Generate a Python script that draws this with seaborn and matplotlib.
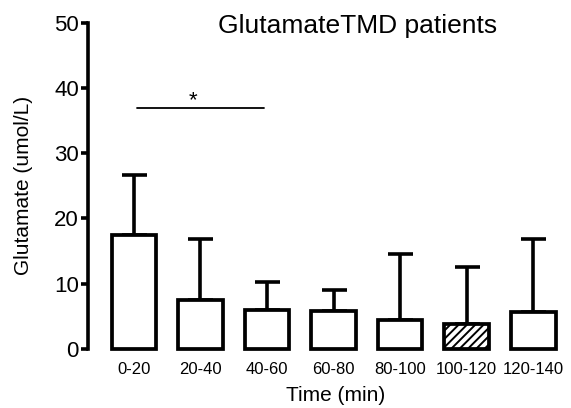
import matplotlib
matplotlib.use("Agg")
import matplotlib.pyplot as plt
import seaborn as sns
import pandas as pd
import numpy as np

# ---- data ----
categories = ["0-20", "20-40", "40-60", "60-80", "80-100", "100-120", "120-140"]
means = [17.5, 7.5, 5.9, 5.8, 4.5, 3.8, 5.6]
upper = [26.6, 16.8, 10.2, 9.1, 14.6, 12.5, 16.8]
yticks = [0, 10, 20, 30, 40, 50]
sig_x = [0.04, 1.95]
sig_y = 37.0
star_x = 0.89
star_y = 38.1

sns.set_theme(style="white")
plt.rcParams["font.family"] = ["Liberation Sans", "DejaVu Sans"]
plt.rcParams["hatch.linewidth"] = 1.4
plt.rcParams["text.color"] = "black"
plt.rcParams["axes.labelcolor"] = "black"
plt.rcParams["xtick.color"] = "black"
plt.rcParams["ytick.color"] = "black"

W, H = 571, 408
fig = plt.figure(figsize=(W / 100, H / 100), dpi=100)
ax_left, ax_right, ax_bottom, ax_top = 88, 568, 59, 385.3
ax = fig.add_axes([ax_left / W, ax_bottom / H, (ax_right - ax_left) / W, (ax_top - ax_bottom) / H])

df = pd.DataFrame({"time": categories, "glu": means})
sns.barplot(data=df, x="time", y="glu", color="white", edgecolor="black",
            linewidth=2.7, width=0.67, ax=ax, errorbar=None, saturation=1)
for i, p in enumerate(ax.patches):
    p.set_clip_on(False)
    p.set_zorder(3)
    if i == 5:
        p.set_hatch("////")

err = np.array(upper) - np.array(means)
ax.errorbar(np.arange(len(categories)), means, yerr=[np.zeros(len(err)), err],
            fmt="none", ecolor="black", elinewidth=2.6, capsize=9, capthick=2.6, zorder=2)

ax.plot(sig_x, [sig_y, sig_y], color="black", lw=1.3)
ax.text(star_x, star_y, "*", ha="center", va="center", fontsize=16, color="black")

ax.set_ylim(0, 50)
ax.set_xlim(-0.69, -0.69 + (ax_right - ax_left) / 66.55)
ax.set_yticks(yticks)
ax.set_yticklabels([str(t) for t in yticks], fontsize=16)
ax.tick_params(axis="y", length=5, width=2.6, pad=1.5, color="black", labelcolor="black", left=True)
ax.tick_params(axis="x", length=0, pad=9, labelsize=12, labelcolor="black")
for s in ["top", "right", "bottom"]:
    ax.spines[s].set_visible(False)
ax.spines["left"].set_linewidth(2.6)
ax.spines["left"].set_color("black")

ax.set_ylabel("Glutamate (umol/L)", fontsize=15, color="black")
ax.yaxis.set_label_coords((33 - ax_left) / (ax_right - ax_left), 0.5)
ax.set_xlabel("Time (min)", fontsize=15, color="black")
ax.xaxis.set_label_coords((336 - ax_left) / (ax_right - ax_left), (H - 386 - ax_bottom) / (ax_top - ax_bottom))

fig.text(358 / W, (H - 33) / H, "GlutamateTMD patients", fontsize=19, ha="center", va="baseline", color="black")

fig.savefig("out.png", dpi=100, facecolor="white")
